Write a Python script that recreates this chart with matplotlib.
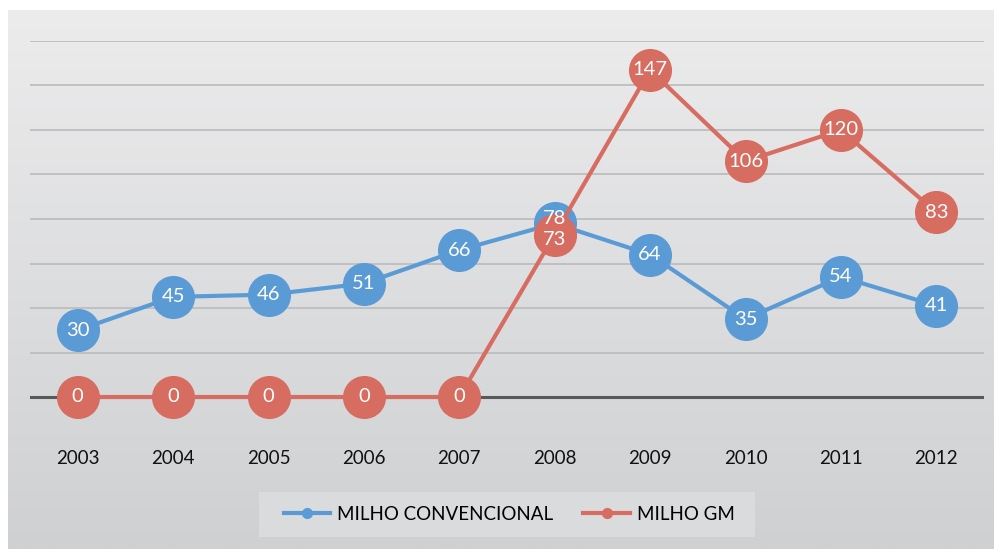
import matplotlib
matplotlib.use("Agg")
import matplotlib.pyplot as plt
import numpy as np
from matplotlib.colors import LinearSegmentedColormap
from matplotlib.patches import Rectangle

years = ["2003", "2004", "2005", "2006", "2007", "2008", "2009", "2010", "2011", "2012"]
convencional = [30, 45, 46, 51, 66, 78, 64, 35, 54, 41]
gm = [0, 0, 0, 0, 0, 73, 147, 106, 120, 83]
series_names = ["MILHO CONVENCIONAL", "MILHO GM"]

BLUE = "#5B9BD5"
RED = "#D76C60"

plt.rcParams['font.family'] = ['Lato', 'DejaVu Sans']

W, H = 995, 549
fig = plt.figure(figsize=(W / 100, H / 100), dpi=100)
fig.patch.set_facecolor("white")

# gradient background
bg = fig.add_axes([8 / W, 0, 1 - 8 / W, 1 - 10 / H])
cmap = LinearSegmentedColormap.from_list("bg", ["#ECECED", "#CFD0D2"])
grad = np.linspace(0, 1, 256).reshape(-1, 1)
bg.imshow(grad, aspect="auto", cmap=cmap, extent=[0, 1, 0, 1], origin="upper")
bg.set_axis_off()

top_px, bot_px = 41.0, 441.5
ax = fig.add_axes([30 / W, 1 - bot_px / H, 954 / W, (bot_px - top_px) / H])
ax.set_facecolor("none")
ax.set_xlim(-0.5, len(years) - 0.5)
ax.set_ylim(-20, 160)
for s in ax.spines.values():
    s.set_visible(False)
ax.set_yticks([])
for yv in range(20, 161, 20):
    ax.axhline(yv, color="#BFC0C2", lw=1.4, zorder=1)
ax.axhline(0, color="#595959", lw=2.2, zorder=1)

x = np.arange(len(years))
ax.set_xticks(x)
ax.set_xticklabels(years, fontsize=13.5, color="#111111")
ax.tick_params(axis="x", length=0, pad=6)

ms = 30
l1, = ax.plot(x, convencional, color=BLUE, lw=3, marker="o", ms=ms, mec=BLUE, mfc=BLUE,
              zorder=3, label=series_names[0])
l2, = ax.plot(x, gm, color=RED, lw=3, marker="o", ms=ms, mec=RED, mfc=RED,
              zorder=4, label=series_names[1])

for xi, v in zip(x, convencional):
    dy = 2 if v == 78 else 0
    ax.text(xi, v + dy, str(v), ha="center", va="center", color="white", fontsize=14.5, zorder=6)
for xi, v in zip(x, gm):
    dy = -2 if v == 73 else 0
    ax.text(xi, v + dy, str(v), ha="center", va="center", color="white", fontsize=14.5, zorder=6)

# legend box
fig.patches.append(Rectangle((259 / W, 1 - 537 / H), (755 - 259) / W, 45 / H,
                             transform=fig.transFigure, facecolor="#DADBDD",
                             edgecolor="none", zorder=0))
h1 = plt.Line2D([], [], color=BLUE, lw=3, marker="o", ms=7)
h2 = plt.Line2D([], [], color=RED, lw=3, marker="o", ms=7)
leg = fig.legend([h1, h2], series_names, loc="center",
                 bbox_to_anchor=(509 / W, 1 - 514.5 / H), ncol=2, frameon=False,
                 fontsize=13.5, handlelength=2.5, handletextpad=0.35, columnspacing=1.6,
                 borderpad=0.3, borderaxespad=0)

fig.savefig("out.png", dpi=100)
